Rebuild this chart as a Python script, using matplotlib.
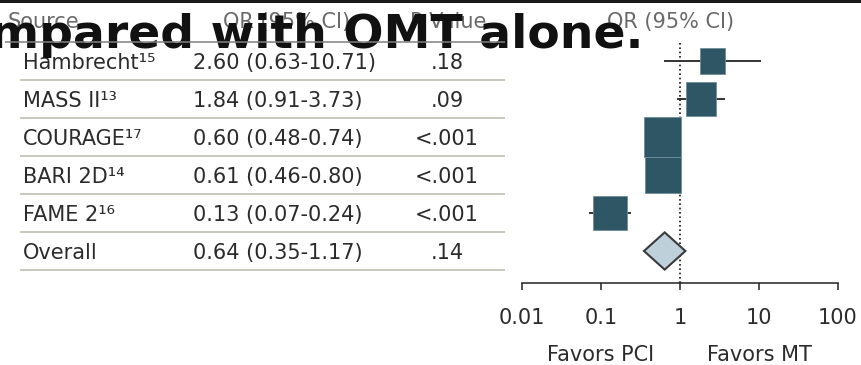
import matplotlib
matplotlib.use("Agg")
import matplotlib.pyplot as plt
from matplotlib.patches import Rectangle, Polygon
from matplotlib.lines import Line2D

# ---------------- data ----------------
studies = ["Hambrecht¹⁵", "MASS II¹³", "COURAGE¹⁷", "BARI 2D¹⁴", "FAME 2¹⁶", "Overall"]
or_vals = [2.60, 1.84, 0.60, 0.61, 0.13, 0.64]
ci_lo = [0.63, 0.91, 0.48, 0.46, 0.07, 0.35]
ci_hi = [10.71, 3.73, 0.74, 0.80, 0.24, 1.17]
p_vals = [".18", ".09", "<.001", "<.001", "<.001", ".14"]
x_ticks = [0.01, 0.1, 1, 10, 100]
x_tick_labels = ["0.01", "0.1", "1", "10", "100"]
headers = ["Source", "OR (95% CI)", "P Value", "OR (95% CI)"]
favors = ["Favors PCI", "Favors MT"]
title_text = "mpared with OMT alone."

# ---------------- styling ----------------
W, H = 861, 365
FS = 15
TXT = "#2b2b2b"
HDR = "#6a6a6a"
BOX = "#2e5664"
DIA_FACE = "#bed1db"
# box sizes (log10 width, fraction of row height) per study
box_logw = [0.32, 0.38, 0.48, 0.455, 0.42]
box_h = [0.66, 0.92, 1.05, 0.95, 0.92]

plt.rcParams["font.family"] = ["DejaVu Sans"]

fig = plt.figure(figsize=(W / 100, H / 100), dpi=100)
fig.patch.set_facecolor("white")

# base axes in pixel coordinates
ax0 = fig.add_axes([0, 0, 1, 1])
ax0.set_xlim(0, W)
ax0.set_ylim(H, 0)
ax0.axis("off")

# top dark bar
ax0.add_patch(Rectangle((0, 0), W, 3, color="#1a1a1a", lw=0))

row_y0, row_dy = 61, 38
name_x, or_x, p_x = 23, 193, 447

# headers
ax0.text(8, 28, headers[0], fontsize=FS, color=HDR, va="baseline", ha="left")
ax0.text(287, 28, headers[1], fontsize=FS, color=HDR, va="baseline", ha="center")
ax0.text(448, 28, headers[2], fontsize=FS, color=HDR, va="baseline", ha="center")
ax0.text(671, 28, headers[3], fontsize=FS, color=HDR, va="baseline", ha="center")

for i, name in enumerate(studies):
    yc = row_y0 + i * row_dy
    ax0.text(name_x, yc + 8, name, fontsize=FS, color=TXT, va="baseline", ha="left")
    lab = f"{or_vals[i]:.2f} ({ci_lo[i]:.2f}-{ci_hi[i]:.2f})"
    ax0.text(or_x, yc + 8, lab, fontsize=FS, color=TXT, va="baseline", ha="left")
    ax0.text(p_x, yc + 8, p_vals[i], fontsize=FS, color=TXT, va="baseline", ha="center")
    ysep = yc + row_dy / 2
    ax0.plot([20, 505], [ysep, ysep], color="#c9c9bd", lw=1.4, solid_capstyle="butt")

# ---------------- forest axes ----------------
x_left, x_right, y_top, y_axis = 522, 838, 42, 283
ax = fig.add_axes([x_left / W, 1 - y_axis / H, (x_right - x_left) / W, (y_axis - y_top) / H])
ax.patch.set_alpha(0)
ax.set_xscale("log")
ax.set_xlim(0.01, 100)
ax.set_ylim((y_axis - row_y0) / row_dy, (y_top - row_y0) / row_dy)
for s in ["top", "left", "right"]:
    ax.spines[s].set_visible(False)
ax.spines["bottom"].set_linewidth(1.1)
ax.spines["bottom"].set_color("#222222")
ax.set_yticks([])
ax.set_xticks(x_ticks)
ax.set_xticklabels(x_tick_labels)
ax.minorticks_off()
ax.tick_params(axis="x", direction="out", length=5, width=1.1, color="#222222",
               labelsize=FS, labelcolor=TXT, pad=13)

# reference line at OR = 1
ax.axvline(1, color="#111111", lw=1.2, ls=(0, (1, 1.6)), zorder=1)

n_st = len(studies) - 1
for i in range(n_st):
    ax.plot([ci_lo[i], ci_hi[i]], [i, i], color="#333333", lw=1.4, zorder=2,
            solid_capstyle="butt")
    hw = box_logw[i] / 2
    x0 = or_vals[i] / 10 ** hw
    x1 = or_vals[i] * 10 ** hw
    hh = box_h[i]
    ax.add_patch(Rectangle((x0, i - hh / 2), x1 - x0, hh, facecolor=BOX,
                           edgecolor="#6f8e98", lw=0.6, zorder=3))

# overall diamond
k = len(studies) - 1
dh = 0.49
ax.add_patch(Polygon([[ci_lo[k], k], [or_vals[k], k - dh], [ci_hi[k], k], [or_vals[k], k + dh]],
                     closed=True, facecolor=DIA_FACE, edgecolor="#3a3a3a", lw=1.5, zorder=4))

# favors labels
ax.annotate(favors[0], xy=(0.1, H - 361), xycoords=("data", "figure pixels"),
            ha="center", va="baseline", fontsize=FS, color=TXT, annotation_clip=False)
ax.annotate(favors[1], xy=(10, H - 361), xycoords=("data", "figure pixels"),
            ha="center", va="baseline", fontsize=FS, color=TXT, annotation_clip=False)

# overlapping bold title fragment
fig.text(643 / W, 1 - 48 / H, title_text, fontsize=34, fontweight="bold",
         color="#111111", ha="right", va="baseline", zorder=10)

# header rule, drawn above the title fragment
fig.add_artist(Line2D([5 / W, 505 / W], [1 - 42 / H, 1 - 42 / H], color="#808080",
                      lw=1.1, solid_capstyle="butt", zorder=11))

fig.savefig("out.png", dpi=100, facecolor="white")
